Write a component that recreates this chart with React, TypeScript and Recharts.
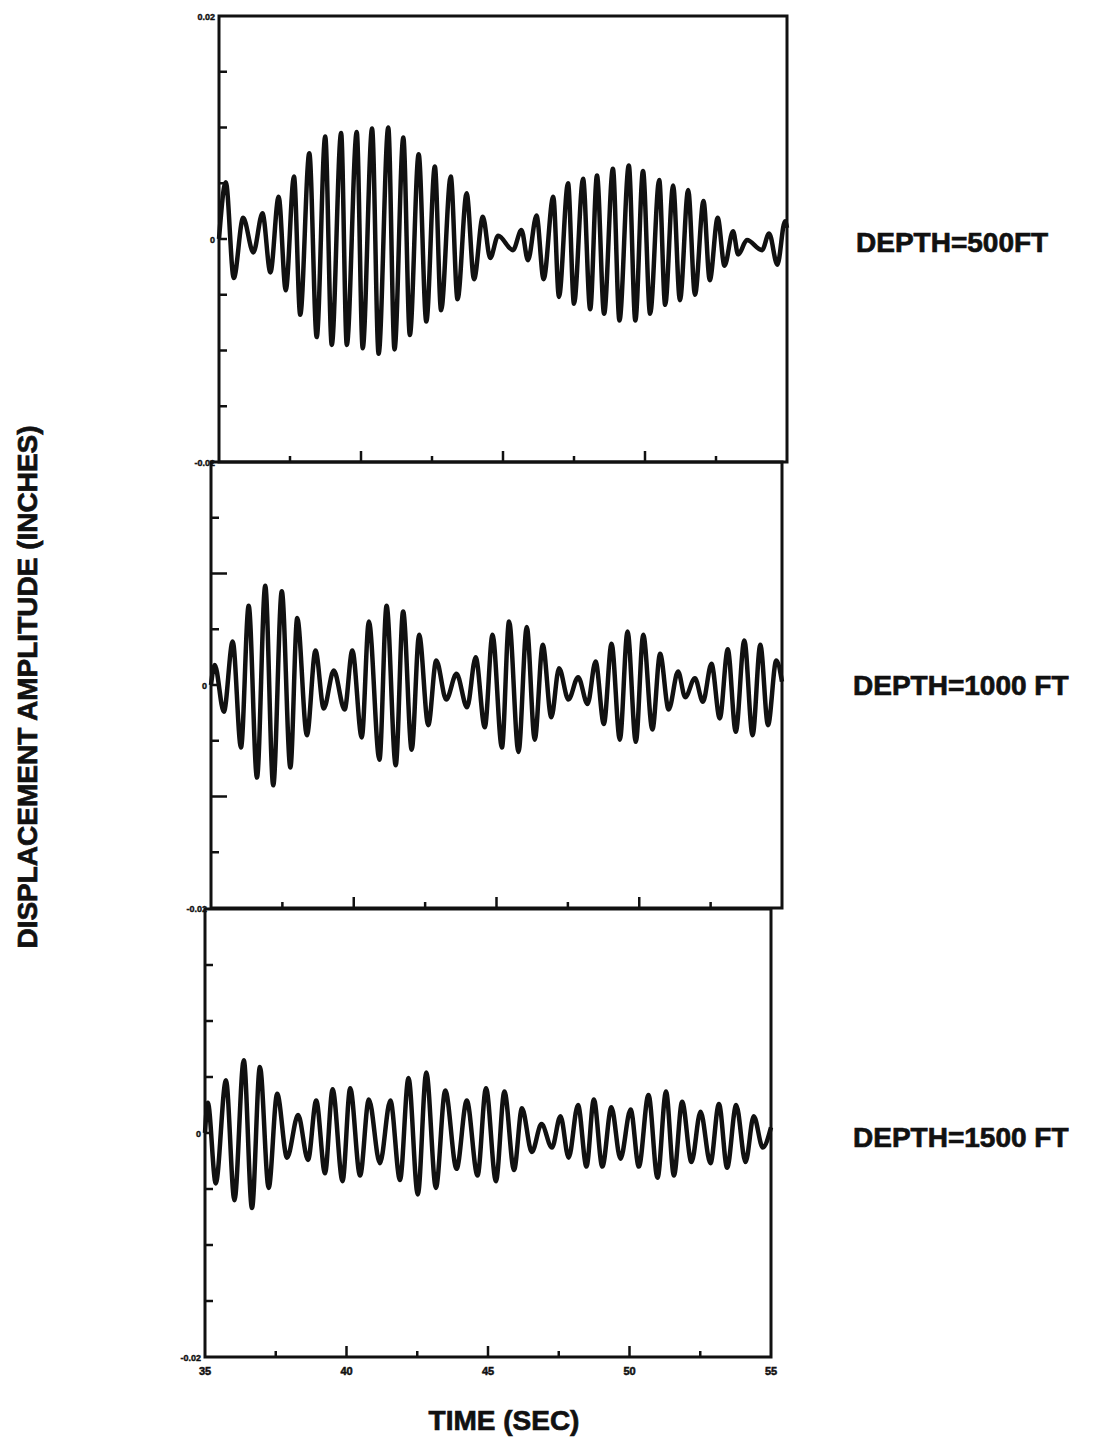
import { LineChart, Line, XAxis, YAxis, ReferenceArea } from "recharts";

// Extrema of each displacement trace: time (sec) and amplitude (inches)
const depth500Time = [
  35.0, 35.24, 35.52, 35.85, 36.21, 36.53, 36.81, 37.1, 37.35, 37.64, 37.86, 38.18, 38.44,
  38.74, 38.97, 39.3, 39.5, 39.85, 40.06, 40.39, 40.62, 40.96, 41.18, 41.49, 41.72, 42.03,
  42.3, 42.6, 42.82, 43.16, 43.4, 43.72, 43.98, 44.29, 44.55, 44.83, 45.35, 45.65, 45.88,
  46.18, 46.43, 46.77, 46.97, 47.29, 47.5, 47.82, 48.07, 48.31, 48.56, 48.87, 49.1, 49.43,
  49.66, 49.93, 50.18, 50.5, 50.71, 50.99, 51.23, 51.52, 51.76, 52.06, 52.28, 52.56, 52.8,
  53.1, 53.28, 53.59, 54.12, 54.37, 54.66, 54.93, 55.0,
];
const depth500Disp = [
  0, 0.0051, -0.0035, 0.0019, -0.0012, 0.0023, -0.003, 0.0038, -0.0046, 0.0056, -0.0068,
  0.0077, -0.0088, 0.0092, -0.0095, 0.0095, -0.0095, 0.0096, -0.0098, 0.0099, -0.0103, 0.01,
  -0.0099, 0.0091, -0.0086, 0.0076, -0.0074, 0.0065, -0.0064, 0.0056, -0.0054, 0.0041,
  -0.0036, 0.002, -0.0017, 0.0003, -0.001, 0.0008, -0.0019, 0.0021, -0.0036, 0.0038, -0.0052,
  0.005, -0.0058, 0.0054, -0.0063, 0.0057, -0.0067, 0.0063, -0.0073, 0.0066, -0.0073, 0.0061,
  -0.0067, 0.0053, -0.0059, 0.0048, -0.0055, 0.0044, -0.005, 0.0034, -0.0037, 0.0019,
  -0.0024, 0.0007, -0.0014, -0.0001, -0.001, 0.0005, -0.0023, 0.0016, 0.001,
];

const depth1000Time = [
  35.0, 35.13, 35.45, 35.76, 36.05, 36.32, 36.61, 36.9, 37.18, 37.48, 37.78, 38.02, 38.36,
  38.66, 38.95, 39.3, 39.68, 39.95, 40.28, 40.53, 40.9, 41.15, 41.47, 41.73, 42.03, 42.29,
  42.61, 42.89, 43.24, 43.6, 43.97, 44.27, 44.59, 44.86, 45.19, 45.44, 45.77, 46.06, 46.34,
  46.62, 46.92, 47.19, 47.52, 47.86, 48.19, 48.47, 48.76, 49.03, 49.32, 49.59, 49.88, 50.14,
  50.46, 50.73, 51.03, 51.36, 51.61, 51.95, 52.23, 52.53, 52.82, 53.1, 53.38, 53.68, 53.97,
  54.24, 54.51, 54.8, 55.0,
];
const depth1000Disp = [
  0, 0.0018, -0.0024, 0.0039, -0.0056, 0.0071, -0.0083, 0.0089, -0.009, 0.0084, -0.0074,
  0.006, -0.0045, 0.0031, -0.0021, 0.0013, -0.0022, 0.0031, -0.0047, 0.0057, -0.0067, 0.0071,
  -0.0072, 0.0066, -0.0058, 0.0045, -0.0036, 0.0022, -0.0013, 0.001, -0.002, 0.0025, -0.0038,
  0.0045, -0.0056, 0.0057, -0.006, 0.0052, -0.0049, 0.0036, -0.0029, 0.0015, -0.0013, 0.0007,
  -0.0017, 0.0021, -0.0035, 0.0037, -0.0049, 0.0048, -0.0051, 0.0045, -0.004, 0.0028,
  -0.0022, 0.0012, -0.0011, 0.0006, -0.0015, 0.0019, -0.003, 0.0032, -0.0042, 0.004, -0.0045,
  0.0036, -0.0036, 0.0022, 0.0003,
];

const depth1500Time = [
  35.0, 35.1, 35.38, 35.74, 36.04, 36.37, 36.66, 36.94, 37.25, 37.55, 37.9, 38.29, 38.64,
  38.93, 39.24, 39.51, 39.86, 40.13, 40.48, 40.79, 41.18, 41.55, 41.89, 42.19, 42.52, 42.82,
  43.16, 43.49, 43.89, 44.25, 44.63, 44.93, 45.28, 45.58, 45.92, 46.2, 46.55, 46.89, 47.26,
  47.56, 47.85, 48.18, 48.48, 48.74, 49.04, 49.36, 49.68, 50.04, 50.33, 50.67, 50.99, 51.29,
  51.57, 51.86, 52.19, 52.51, 52.86, 53.16, 53.45, 53.77, 54.1, 54.39, 54.71, 55.0,
];
const depth1500Disp = [
  0, 0.0027, -0.0045, 0.0047, -0.006, 0.0065, -0.0067, 0.0059, -0.0049, 0.0035, -0.0022,
  0.0016, -0.0024, 0.0029, -0.0036, 0.0039, -0.0043, 0.004, -0.0038, 0.003, -0.0027, 0.0029,
  -0.0042, 0.0049, -0.0055, 0.0054, -0.0049, 0.0038, -0.0032, 0.0029, -0.0038, 0.004,
  -0.0043, 0.0037, -0.0033, 0.0022, -0.0017, 0.0008, -0.0013, 0.0015, -0.0022, 0.0025, -0.003,
  0.003, -0.003, 0.0023, -0.0023, 0.0021, -0.003, 0.0034, -0.004, 0.0037, -0.0038, 0.0028,
  -0.0026, 0.0019, -0.0027, 0.0026, -0.0031, 0.0025, -0.0026, 0.0015, -0.0013, 0.0005,
];

const timeTicks = [35, 37.5, 40, 42.5, 45, 47.5, 50, 52.5, 55];
const dispTicks = [-0.02, -0.015, -0.01, -0.005, 0, 0.005, 0.01, 0.015, 0.02];
const depthLabels = ["DEPTH=500FT", "DEPTH=1000 FT", "DEPTH=1500 FT"];

const INK = "#111";
const FONT = "'Liberation Sans', Arial, Helvetica, sans-serif";
const CHART_W = 820;

const zip = (t: number[], d: number[]) => t.map((time, i) => ({ time, disp: d[i] }));

// plot-area box of each stacked panel on the page
const panels = [
  { data: zip(depth500Time, depth500Disp), left: 219, right: 787, top: 16, bottom: 462, yLabels: [0.02, 0, -0.02], xLabels: false, longTick: 8 },
  { data: zip(depth1000Time, depth1000Disp), left: 211, right: 782, top: 462, bottom: 908, yLabels: [0, -0.02], xLabels: false, longTick: 16 },
  { data: zip(depth1500Time, depth1500Disp), left: 205, right: 771, top: 909, bottom: 1357, yLabels: [0, -0.02], xLabels: true, longTick: 8 },
];

const labelY = [252, 695, 1147];
const labelX = [856, 853, 853];

// heavy lettering used for all titles
const heavy = {
  fontFamily: FONT,
  fontWeight: "bold" as const,
  fontSize: 28,
  fill: INK,
  stroke: INK,
  strokeWidth: 0.7,
};

function TimeTick(props: any) {
  const { x, y, payload, showLabel } = props;
  const v = payload.value;
  const major = v % 5 === 0;
  const edge = v === 35 || v === 55;
  return (
    <g>
      {!edge && (
        <line x1={x} x2={x} y1={y} y2={y - (major ? 11 : 6)} stroke={INK} strokeWidth={2.5} />
      )}
      {showLabel && major && (
        <text x={x} y={y + 18} textAnchor="middle" fontFamily={FONT} fontWeight="bold" fontSize={11} fill={INK} stroke={INK} strokeWidth={0.5}>
          {v}
        </text>
      )}
    </g>
  );
}

function DispTick(props: any) {
  const { x, y, payload, labels, longTick } = props;
  const v = payload.value;
  const edge = Math.abs(v) > 0.019;
  const len = Math.abs(Math.abs(v) - 0.01) < 1e-9 ? longTick : 8;
  const show = labels.some((l: number) => Math.abs(l - v) < 1e-9);
  return (
    <g>
      {!edge && <line x1={x} x2={x + len} y1={y} y2={y} stroke={INK} strokeWidth={2.5} />}
      {show && (
        <text x={x - 4} y={y + 3.5} textAnchor="end" fontFamily={FONT} fontWeight="bold" fontSize={9} fill={INK} stroke={INK} strokeWidth={0.4}>
          {v === 0 ? "0" : v.toFixed(2)}
        </text>
      )}
    </g>
  );
}

function Panel({ p }: { p: (typeof panels)[number] }) {
  const plotH = p.bottom - p.top;
  return (
    <div style={{ position: "absolute", left: 0, top: p.top - 10 }}>
      <LineChart
        width={CHART_W}
        height={plotH + 40}
        data={p.data}
        margin={{ top: 10, right: CHART_W - p.right, bottom: 10, left: p.left - 30 }}
      >
        <XAxis
          dataKey="time"
          type="number"
          domain={[35, 55]}
          ticks={timeTicks}
          interval={0}
          height={20}
          axisLine={false}
          tickLine={false}
          tickSize={0}
          tickMargin={0}
          tick={(t: any) => <TimeTick {...t} showLabel={p.xLabels} />}
        />
        <YAxis
          type="number"
          domain={[-0.02, 0.02]}
          ticks={dispTicks}
          interval={0}
          width={30}
          axisLine={false}
          tickLine={false}
          tickSize={0}
          tickMargin={0}
          tick={(t: any) => <DispTick {...t} labels={p.yLabels} longTick={p.longTick} />}
        />
        <ReferenceArea
          x1={35}
          x2={55}
          y1={-0.02}
          y2={0.02}
          fill="none"
          fillOpacity={0}
          stroke={INK}
          strokeWidth={3}
        />
        <Line
          dataKey="disp"
          type="monotone"
          stroke={INK}
          strokeWidth={4.5}
          dot={false}
          isAnimationActive={false}
        />
      </LineChart>
    </div>
  );
}

export default function App() {
  return (
    <div style={{ position: "absolute", left: 0, top: 0, width: 1095, height: 1441, background: "#fff" }}>
      {panels.map((p, i) => (
        <Panel key={i} p={p} />
      ))}
      <svg width={1095} height={1441} style={{ position: "absolute", left: 0, top: 0, pointerEvents: "none" }}>
        {depthLabels.map((s, i) => (
          <text key={s} x={labelX[i]} y={labelY[i]} {...heavy}>
            {s}
          </text>
        ))}
        <text x={504} y={1430} textAnchor="middle" {...heavy}>
          TIME (SEC)
        </text>
        <text
          x={27}
          y={687}
          transform="rotate(-90 27 687)"
          textAnchor="middle"
          dominantBaseline="central"
          {...heavy}
        >
          DISPLACEMENT AMPLITUDE (INCHES)
        </text>
      </svg>
    </div>
  );
}
